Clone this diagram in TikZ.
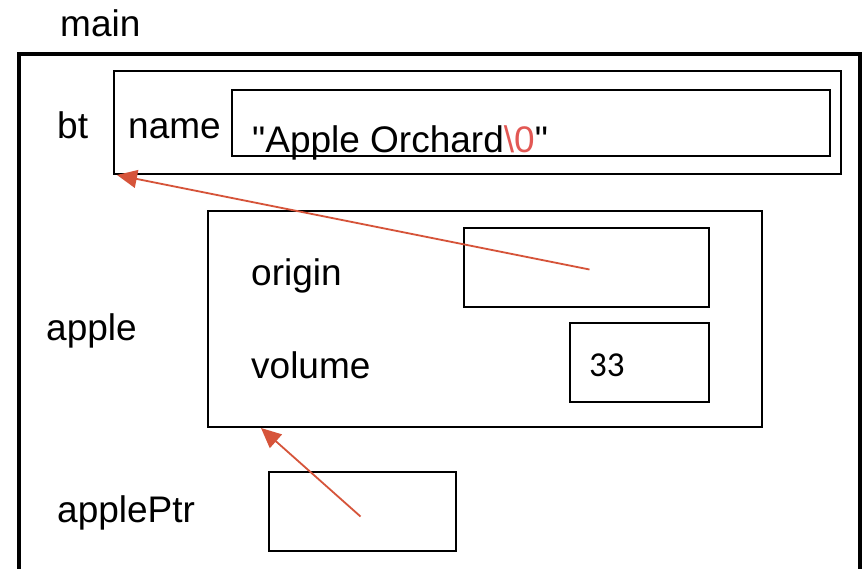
\documentclass[tikz,border=0pt]{standalone}
\usepackage{fontspec}
\setmainfont{Liberation Sans}
\newfontfamily\qfont{Liberation Sans}
\newfontfamily\numfont{Carlito}
\usetikzlibrary{arrows.meta,calc}
\definecolor{arrowred}{RGB}{214,84,58}
\definecolor{textred}{RGB}{226,88,84}
\begin{document}
\begin{tikzpicture}[x=1pt,y=-1pt,
  box/.style={draw=black,line width=2.2pt,inner sep=0pt,outer sep=0pt,anchor=north west,rectangle},
  lbl/.style={anchor=base west,inner sep=0pt,font=\fontsize{37}{40}\selectfont},
  ptr/.style={draw=arrowred,line width=1.8pt,-{Triangle[length=20pt,width=18pt]}}]
\useasboundingbox (0,0) rectangle (867,568);
\clip (0,0) rectangle (867,568);
\fill[white] (0,0) rectangle (867,568);
% main frame
\node[box,line width=4pt,minimum width=841pt,minimum height=560pt] (mainbox) at (19,54) {};
\node[lbl] (mainlbl) at (60,36) {main};
% bt
\node[box,line width=1.8pt,minimum width=727pt,minimum height=103pt] (bt) at (114,71) {};
\node[lbl] (btlbl) at (57,138) {bt};
\node[lbl] (namelbl) at (128,138) {name};
\node[box,minimum width=598pt,minimum height=66pt] (namebox) at (232,90) {};
\node[lbl] (nameval) at (252,152) {{\qfont"}Apple Orchard\textcolor{textred}{\textbackslash0}{\qfont"}};
% apple
\node[box,minimum width=554pt,minimum height=216pt] (apple) at (208,211) {};
\node[lbl] (applelbl) at (46,340) {apple};
\node[lbl] (originlbl) at (251,285) {origin};
\node[lbl] (volumelbl) at (251,378) {volume};
\node[box,minimum width=245pt,minimum height=79pt] (origin) at (464,228) {};
\node[box,minimum width=139pt,minimum height=79pt] (volume) at (570,323) {};
\node[anchor=base west,inner sep=0pt,font=\numfont\fontsize{35}{38}\selectfont] (vol33) at (589,376) {33};
% applePtr
\node[lbl] (ptrlbl) at (57,522) {applePtr};
\node[box,minimum width=187pt,minimum height=79pt] (applePtr) at (269,472) {};
% pointers
\coordinate (o1) at ($(origin.center)+(3,2)$);
\coordinate (t1) at ($(bt.south west)+(3,1)$);
\draw[ptr] (o1) -- (t1);
\coordinate (o2) at ($(applePtr.center)+(-2,5)$);
\coordinate (t2) at ($(apple.south west)+(53,1)$);
\draw[ptr] (o2) -- (t2);
\end{tikzpicture}
\end{document}
